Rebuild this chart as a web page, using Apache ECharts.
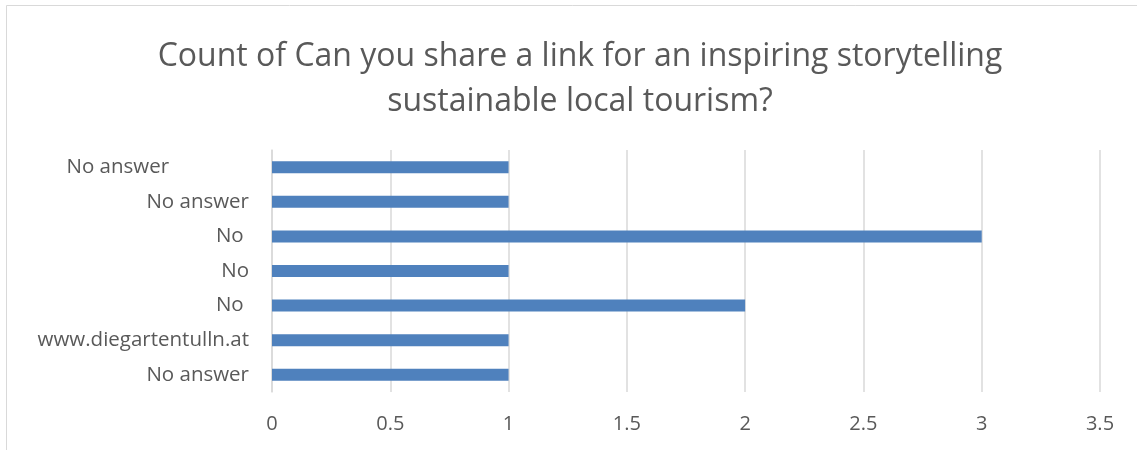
<!DOCTYPE html>
<html>
<head>
<meta charset="utf-8">
<script src="https://cdn.jsdelivr.net/npm/echarts@6/dist/echarts.min.js"></script>
<style>
  html, body { margin: 0; padding: 0; background: #fff; }
  #chart { width: 1137px; height: 450px; }
</style>
</head>
<body>
<div id="chart"></div>
<script>
// Survey answers, listed bottom to top as the category axis draws them
const categories = [
  'No answer',
  'www.diegartentulln.at',
  'No ',
  'No',
  'No ',
  'No answer',
  'No answer               '
];
const counts = [1, 1, 2, 1, 3, 1, 1];
const xTicks = { min: 0, max: 3.5, interval: 0.5 };

const FONT = '"Open Sans", sans-serif';
const GREY = '#595959';

const chart = echarts.init(document.getElementById('chart'), null, { renderer: 'canvas' });
chart.setOption({
  animation: false,
  backgroundColor: '#ffffff',
  graphic: [{
    type: 'rect',
    shape: { x: 6.5, y: 5.5, width: 1140, height: 450 },
    style: { fill: 'none', stroke: '#d9d9d9', lineWidth: 1 },
    silent: true
  }],
  title: {
    text: 'Count of Can you share a link for an inspiring storytelling\nsustainable local tourism?',
    left: 575,
    top: 29,
    textAlign: 'center',
    textStyle: {
      fontFamily: FONT,
      fontSize: 32,
      fontWeight: 'normal',
      color: GREY,
      lineHeight: 45
    }
  },
  grid: { left: 272, right: 37, top: 150, bottom: 58, containLabel: false },
  xAxis: {
    type: 'value',
    min: xTicks.min,
    max: xTicks.max,
    interval: xTicks.interval,
    axisLine: { show: false },
    axisTick: { show: false },
    splitLine: { lineStyle: { color: '#d9d9d9', width: 1.5 } },
    axisLabel: { fontFamily: FONT, fontSize: 20, color: GREY, margin: 22 }
  },
  yAxis: {
    type: 'category',
    data: categories,
    axisLine: { show: true, lineStyle: { color: '#d9d9d9', width: 1.5 } },
    axisTick: { show: false },
    axisLabel: { fontFamily: FONT, fontSize: 20.5, color: GREY, margin: 23 }
  },
  series: [{
    type: 'bar',
    data: counts,
    barWidth: 12,
    itemStyle: { color: '#4f81bd' }
  }]
});
</script>
</body>
</html>
